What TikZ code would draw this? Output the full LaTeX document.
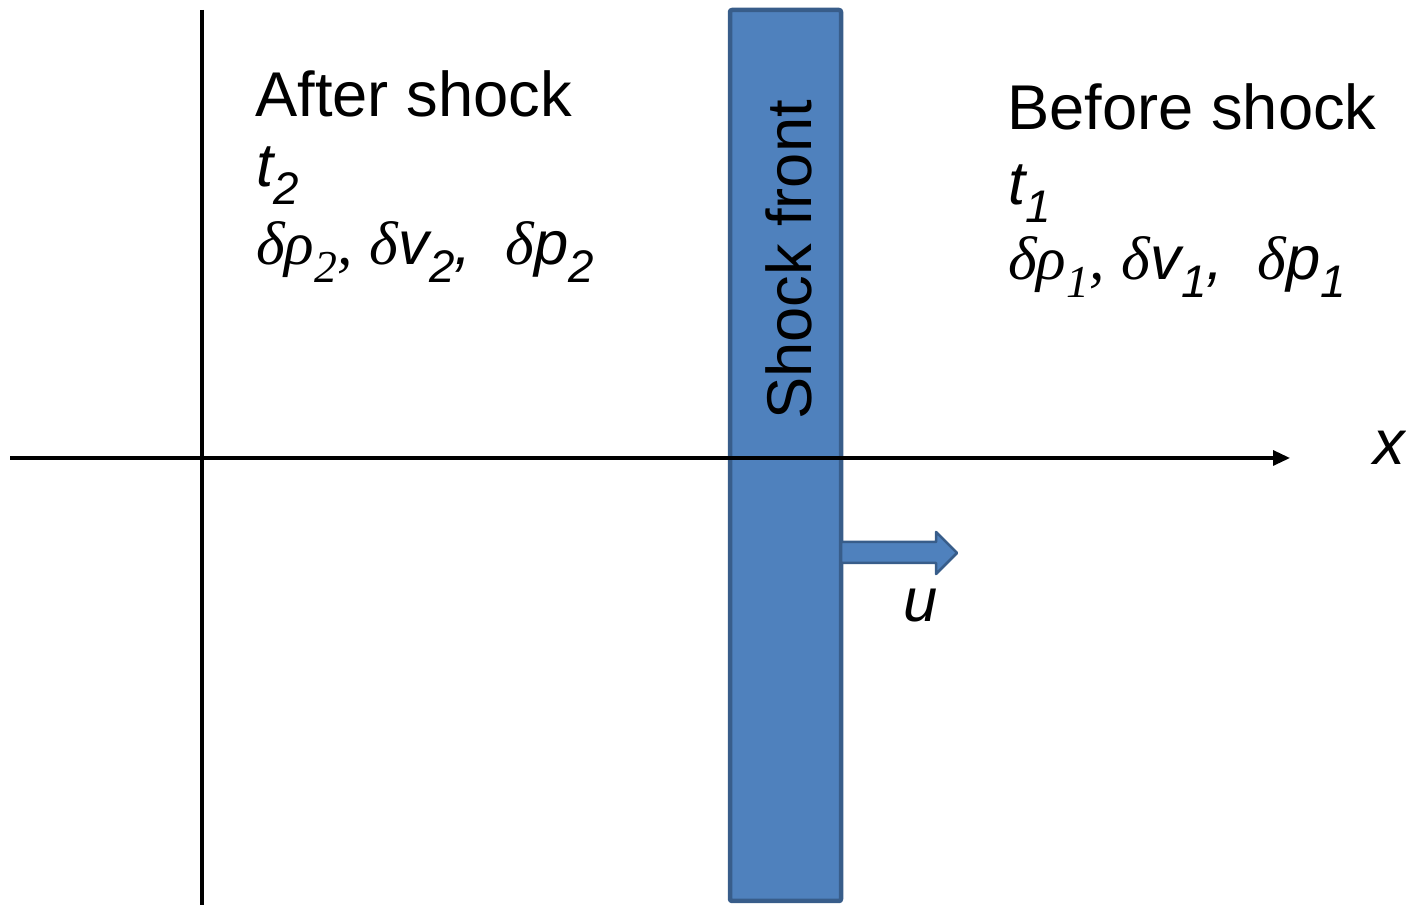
\documentclass[tikz,border=0pt]{standalone}
\usepackage{fontspec}
\setmainfont{Liberation Sans}
\newfontfamily\greekserif{Liberation Serif}
\usetikzlibrary{arrows.meta}
\definecolor{frontblue}{HTML}{4F81BD}
\definecolor{frontedge}{HTML}{385D8A}
\newcommand{\lo}[1]{\raisebox{-0.28em}{\fontsize{26}{26}\selectfont #1}}
\newcommand{\gk}[1]{{\greekserif\itshape #1}}
\begin{document}
\begin{tikzpicture}[x=0.02cm,y=0.02cm,line join=round,
    head/.style={inner sep=0pt,font=\fontsize{36}{36}\selectfont},
    vars/.style={inner sep=0pt,font=\fontsize{35}{35}\selectfont\itshape}]
    \useasboundingbox (0,0) rectangle (1406,905);
    % shock front and its velocity
    \draw[fill=frontblue,draw=frontedge,line width=0.09cm,rounded corners=0.04cm] (730,4) rectangle (841,895);
    \draw[fill=frontblue,draw=frontedge,line width=0.05cm] (841,363)--(936,363)--(936,373)--(957,352)--(936,331)--(936,342)--(841,342)--cycle;
    \node[head,rotate=90,anchor=base] (front) at (811,645) {Shock front};
    \node[vars,anchor=base west] (ulabel) at (903,283) {u};
    % axes
    \draw[line width=0.065cm,-{Triangle[length=0.34cm,width=0.3cm]}] (10,447)--(1290,447);
    \draw[line width=0.065cm] (202,895)--(202,0);
    \node[head,anchor=base west,font=\fontsize{36}{36}\selectfont\itshape] (xlabel) at (1373,440) {x};
    % left side
    \node[head,anchor=base west] (after) at (255,788) {After shock};
    \node[vars,anchor=base west] (tafter) at (256,718) {t\lo{2}};
    \node[vars,anchor=base west] (varsafter) at (256,640) {\gk{δρ}\lo{\gk{2}}\gk{,}\ \gk{δ}v\lo{2},\ \ \gk{δ}p\lo{2}};
    % right side
    \node[head,anchor=base west] (before) at (1007,775) {Before shock};
    \node[vars,anchor=base west] (tbefore) at (1008,700) {t\lo{1}};
    \node[vars,anchor=base west] (varsbefore) at (1008,625) {\gk{δρ}\lo{\gk{1}}\gk{,}\ \gk{δ}v\lo{1},\ \ \gk{δ}p\lo{1}};
\end{tikzpicture}
\end{document}
